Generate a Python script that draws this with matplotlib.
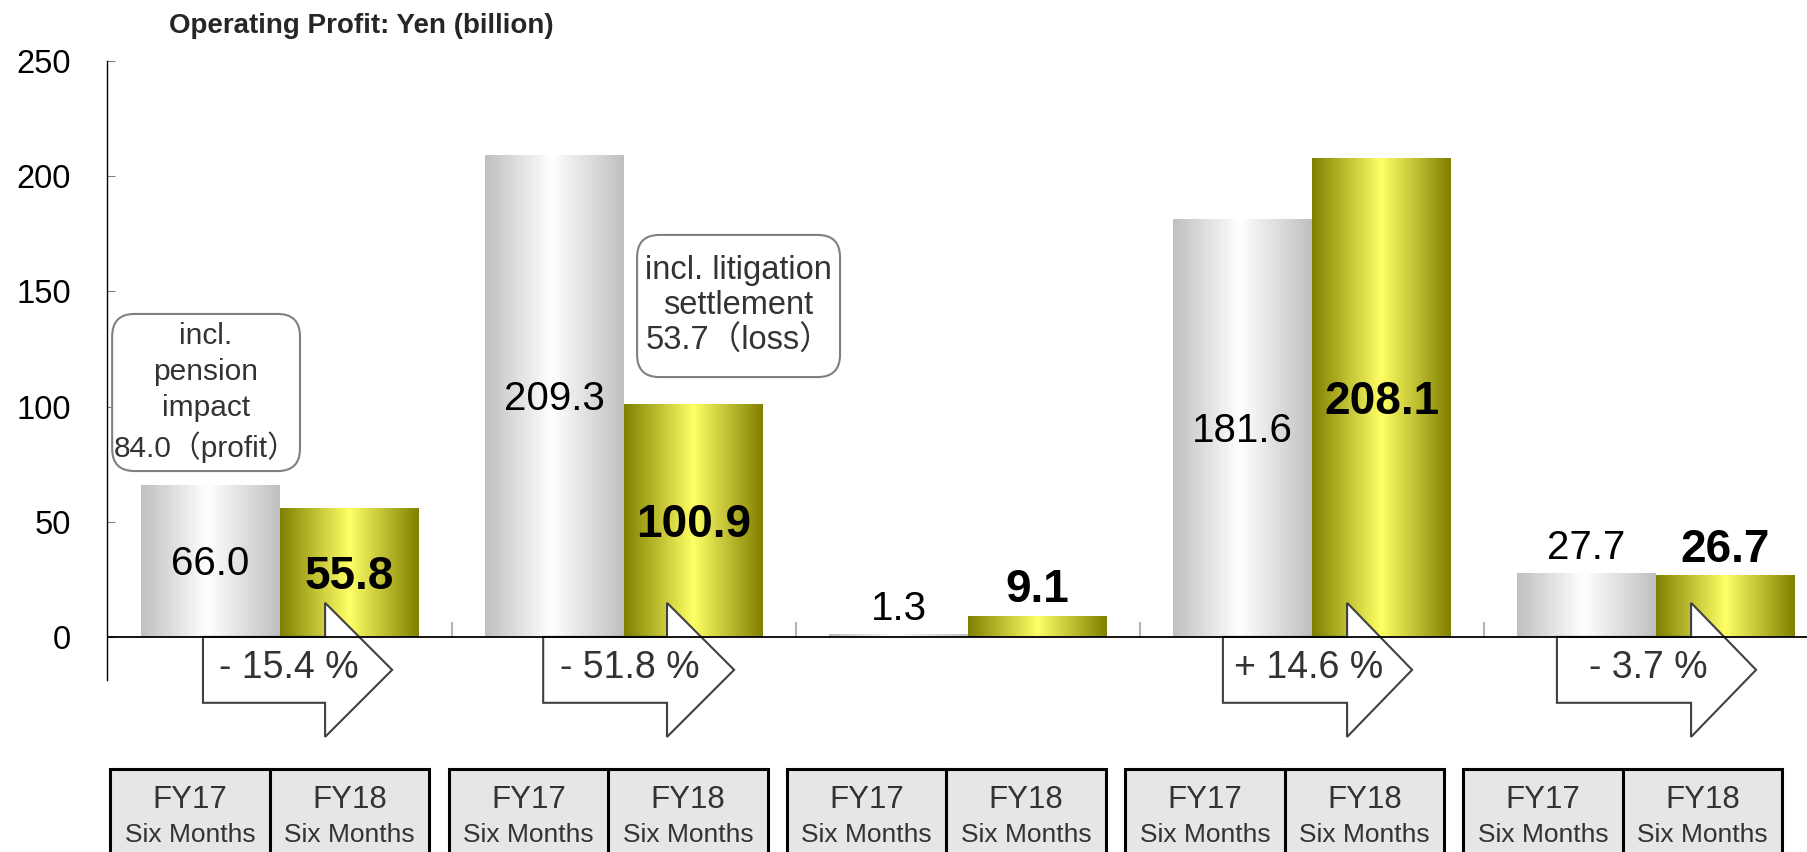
import numpy as np
import matplotlib
matplotlib.use('Agg')
import matplotlib.pyplot as plt
from matplotlib.colors import LinearSegmentedColormap
from matplotlib.patches import Polygon, Rectangle, FancyBboxPatch

# values (Yen billion)
fy17_values = [66.0, 209.3, 1.3, 181.6, 27.7]
fy18_values = [55.8, 100.9, 9.1, 208.1, 26.7]
change_labels = ['- 15.4 %', '- 51.8 %', '', '+ 14.6 %', '- 3.7 %']
period_labels = ['FY17', 'FY18']
period_sub = 'Six Months'
note_texts = ['incl.\npension\nimpact\n84.0（profit）',
              'incl. litigation\nsettlement\n53.7（loss）']
y_ticks = [0, 50, 100, 150, 200, 250]

plt.rcParams['font.family'] = ['Liberation Sans', 'Noto Sans CJK JP', 'DejaVu Sans']

silver = LinearSegmentedColormap.from_list(
    'silver', [(0, '#c0c0c0'), (0.48, '#ffffff'), (1, '#c0c0c0')])
gold = LinearSegmentedColormap.from_list(
    'gold', [(0, '#808000'), (0.5, '#ffff66'), (1, '#808000')])

W, H = 1807, 852
fig = plt.figure(figsize=(W / 100, H / 100), dpi=100)
ax = fig.add_axes([107 / W, 1 - 680 / H, 1 - 107 / W, (680 - 61) / H])

x = np.arange(len(fy17_values))
bw = 0.404
bars17 = ax.bar(x - bw / 2, fy17_values, bw, color='none', linewidth=0)
bars18 = ax.bar(x + bw / 2, fy18_values, bw, color='none', linewidth=0)

# horizontal gradient fill clipped to each bar
grad = np.linspace(0, 1, 256).reshape(1, -1)
for bars, cmap in ((bars17, silver), (bars18, gold)):
    for b in bars:
        x0, y0 = b.get_x(), b.get_y()
        im = ax.imshow(grad, cmap=cmap, aspect='auto', interpolation='bilinear',
                       extent=[x0, x0 + b.get_width(), y0, y0 + b.get_height()], zorder=2)
        im.set_clip_path(b)

# value labels: inside the bar when tall, above it when short
for bars, vals, bold in ((bars17, fy17_values, False), (bars18, fy18_values, True)):
    fs = 33 if bold else 29
    for b, v in zip(bars, vals):
        cx = b.get_x() + b.get_width() / 2
        if v >= 50:
            ax.annotate(f'{v:.1f}', (cx, v / 2), xytext=(0, -0.358 * fs), textcoords='offset points',
                        ha='center', va='baseline', fontsize=fs,
                        fontweight='bold' if bold else 'normal', color='black', zorder=5)
        else:
            ax.annotate(f'{v:.1f}', (cx, v), xytext=(0, 10), textcoords='offset points',
                        ha='center', va='baseline', fontsize=fs,
                        fontweight='bold' if bold else 'normal', color='black', zorder=5)

# change arrows (left edge, head base, tip relative to group centre)
arrow_geom = [(-0.224, 0.131, 0.326), (-0.235, 0.125, 0.320), None,
              (-0.259, 0.102, 0.291), (-0.288, 0.102, 0.291)]
for i, lab in enumerate(change_labels):
    if not lab:
        continue
    c = x[i]
    l, hb, tip = arrow_geom[i]
    pts = [(c + l, 0), (c + hb, 0), (c + hb, 14.8), (c + tip, -14.3),
           (c + hb, -43.4), (c + hb, -28.6), (c + l, -28.6)]
    ax.add_patch(Polygon(pts, closed=True, fc='white', ec='#404040', lw=1.5,
                         zorder=4, clip_on=False))
    ax.text(c + (l + tip) / 2 - 0.025, -17.8, lab, ha='center', va='baseline',
            fontsize=27, color='#333333', zorder=5)

# callout boxes
note_boxes = [(-0.488, 72.0, 0.546, 68.2), (1.038, 112.8, 0.590, 61.7)]
note_style = [(21.5, 1.37), (23.5, 1.19)]
for (bx, by, bwid, bht), txt, (fs, ls) in zip(note_boxes, note_texts, note_style):
    ax.add_patch(FancyBboxPatch((bx, by), bwid, bht,
                                boxstyle='round,pad=0,rounding_size=0.065',
                                mutation_aspect=149.3, fc='white', ec='#808080',
                                lw=1.5, zorder=4))
    ax.text(bx + bwid / 2, by + bht / 2, txt, ha='center', va='center',
            multialignment='center', fontsize=fs, color='#333333',
            linespacing=ls, zorder=5)

# small group separators on the zero line
ax.vlines(x[:-1] + 0.5, 0, 6.5, color='#b3b3b3', lw=1.5, zorder=1)
ax.axhline(0, color='black', lw=1.3, zorder=6)

ax.set_xlim(-0.503, 4.439)
ax.set_ylim(-18.7, 250)
ax.set_xticks([])
ax.set_yticks(y_ticks)
ax.tick_params(axis='y', direction='in', length=6, color='#808080', labelsize=23.5, pad=26)
for s in ('top', 'right', 'bottom'):
    ax.spines[s].set_visible(False)
ax.spines['left'].set_linewidth(1.0)

fig.text(169 / W, 1 - 33 / H, 'Operating Profit: Yen (billion)', fontsize=20,
         fontweight='bold', color='#262626', va='baseline')

# period boxes at the bottom
axb = fig.add_axes([0, 0, 1, 94 / H])
axb.set_xlim(-0.798, 4.544)
axb.set_ylim(0, 94)
axb.axis('off')
half = 0.4715
for k in range(len(fy17_values)):
    axb.add_patch(Rectangle((k - half, -20), 2 * half, 103, fc='#e6e6e6', ec='black', lw=2.2))
    axb.plot([k, k], [-20, 83], color='black', lw=2.2)
    for j, p in enumerate(period_labels):
        px = k - half / 2 + j * half
        axb.text(px, 44, p, ha='center', va='baseline', fontsize=22.5, color='#333333')
        axb.text(px, 10, period_sub, ha='center', va='baseline', fontsize=19, color='#333333')

fig.savefig('out.png', dpi=100)
